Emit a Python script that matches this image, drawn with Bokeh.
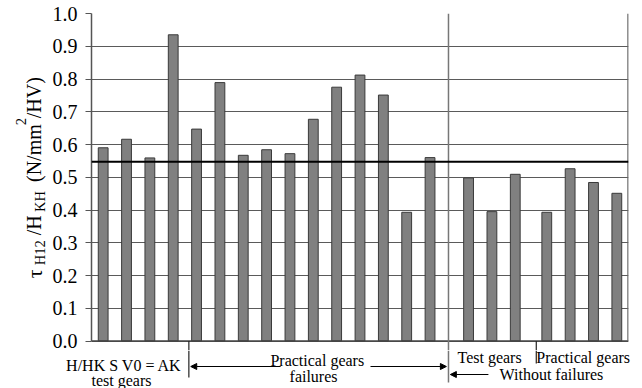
import math
from bokeh.plotting import figure
from bokeh.layouts import column, row
from bokeh.models import Label, Arrow, NormalHead, Span, FixedTicker, Range1d, PrintfTickFormatter
from bokeh.embed import file_html
from bokeh.resources import INLINE

# ---- data ----
positions = [0, 1, 2, 3, 4, 5, 6, 7, 8, 9, 10, 11, 12, 13, 14,
             15.65, 16.65, 17.65, 19, 20, 21, 22]
values = [0.590, 0.616, 0.559, 0.935, 0.647, 0.789, 0.567, 0.584, 0.572, 0.677,
          0.775, 0.812, 0.751, 0.393, 0.560,
          0.498, 0.395, 0.509,
          0.393, 0.526, 0.484, 0.451]
threshold = 0.547
tick_values = [0.0, 0.1, 0.2, 0.3, 0.4, 0.5, 0.6, 0.7, 0.8, 0.9, 1.0]
group_labels = ["H/HK S V0 = AK", "test gears", "Practical gears", "failures",
                "Test gears", "Practical gears", "Without failures"]

FONT = "Liberation Serif"
W, H = 642, 388
LEFT_W = 48          # width of the y-label strip
MAIN_H = 350         # main figure height
BOT_H = H - MAIN_H   # annotation strip height
FRAME_L, FRAME_R, FRAME_T = 91, 628, 13
PX_PER_UNIT = (FRAME_R - FRAME_L) / 23.0
YMIN = -(MAIN_H - 340.5) / 327.5

# ---------------- main chart ----------------
p = figure(width=W - LEFT_W, height=MAIN_H, output_backend="svg", toolbar_location=None,
           x_axis_location=None, x_range=Range1d(-0.5, 22.5), y_range=Range1d(YMIN, 1.0),
           min_border_left=FRAME_L - LEFT_W, min_border_right=W - FRAME_R,
           min_border_top=FRAME_T, min_border_bottom=0)
p.outline_line_color = None
p.background_fill_color = "white"
p.xgrid.visible = False
p.ygrid.ticker = FixedTicker(ticks=tick_values)
p.ygrid.grid_line_color = "#5a5a5a"
p.ygrid.grid_line_width = 1

ax = p.yaxis[0]
ax.ticker = FixedTicker(ticks=tick_values)
ax.formatter = PrintfTickFormatter(format="%.1f")
ax.bounds = (0, 1)
ax.axis_line_color = "#555555"
ax.axis_line_width = 1.5
ax.major_tick_line_color = "#555555"
ax.major_tick_out = 6
ax.major_tick_in = 0
ax.minor_tick_line_color = None
ax.major_label_text_font = FONT
ax.major_label_text_font_size = "20px"
ax.major_label_text_color = "black"
ax.major_label_standoff = 8

p.vbar(x=positions, top=values, bottom=0, width=0.42,
       fill_color="#808080", line_color="#3a3a3a", line_width=1)
p.add_layout(Span(location=threshold, dimension="width", line_color="black", line_width=2))
p.segment(x0=[-0.5], y0=[0], x1=[22.5], y1=[0], line_color="#444444", line_width=1.5)
p.segment(x0=[22.48], y0=[0], x1=[22.48], y1=[1.0], line_color="#666666", line_width=1.5)
p.segment(x0=[14.79], y0=[YMIN], x1=[14.79], y1=[1.0], line_color="#777777", line_width=1.5)
p.segment(x0=[3.67, 18.55], y0=[YMIN, YMIN], x1=[3.67, 18.55], y1=[0, 0],
          line_color="#222222", line_width=1.2)

# ---------------- y-label strip ----------------
yl = figure(width=LEFT_W, height=MAIN_H, output_backend="svg", toolbar_location=None,
            x_axis_location=None, y_axis_location=None,
            x_range=Range1d(0, LEFT_W), y_range=Range1d(0, MAIN_H),
            min_border_left=0, min_border_right=0, min_border_top=0, min_border_bottom=0)
yl.outline_line_color = None
yl.grid.visible = False
# (piece, font px, baseline shift px, offset along text px)
pieces = [
    ("\u03c4", 22, 0, 0.0),
    ("H12", 14.5, 6, 13.0),
    ("/H", 20, 0, 43.0),
    ("KH", 14.5, 6, 66.3),
    ("(N/mm", 20, 0, 96.3),
    ("2", 14.5, -13.5, 153.0),
    ("/HV)", 20, 0, 160.0),
]
base_x = 33.5
base_y = MAIN_H - 275
for txt, size, dx, dy in pieces:
    yl.add_layout(Label(x=base_x, y=base_y, text=txt, angle=math.pi / 2, angle_units="rad",
                        x_offset=dx, y_offset=dy, text_font=FONT,
                        text_font_size=f"{size}px", text_align="left",
                        text_baseline="alphabetic", text_color="black"))

# ---------------- bottom annotation strip ----------------
x0 = -0.5 - FRAME_L / PX_PER_UNIT
x1 = -0.5 + (W - FRAME_L) / PX_PER_UNIT
b = figure(width=W, height=BOT_H, output_backend="svg", toolbar_location=None,
           x_axis_location=None, y_axis_location=None,
           x_range=Range1d(x0, x1), y_range=Range1d(0, BOT_H),
           min_border_left=0, min_border_right=0, min_border_top=0, min_border_bottom=0)
b.outline_line_color = None
b.grid.visible = False

def sy(screen_y):
    return H - screen_y

b.segment(x0=[14.79], y0=[sy(382)], x1=[14.79], y1=[BOT_H], line_color="#777777", line_width=1.5)
b.segment(x0=[3.67, 18.55], y0=[sy(377), sy(363)], x1=[3.67, 18.55], y1=[BOT_H, BOT_H],
          line_color="#222222", line_width=1.2)

def arrow(xs, xe, y):
    b.add_layout(Arrow(x_start=xs, y_start=y, x_end=xe, y_end=y, line_color="black",
                       line_width=1, end=NormalHead(size=6, fill_color="black",
                                                    line_color="black")))

arrow(7.6, 3.75, sy(366))
arrow(11.45, 14.7, sy(366))
arrow(16.5, 14.87, sy(374))

text_specs = [
    (0.89, sy(364.5)), (0.785, sy(379.5)), (9.17, sy(359.5)), (9.01, sy(376)),
    (16.55, sy(357)), (20.56, sy(357)), (19.2, sy(374)),
]
for (tx, ty), t in zip(text_specs, group_labels):
    b.add_layout(Label(x=tx, y=ty, text=t, text_font=FONT, text_font_size="16px",
                       text_align="center", text_baseline="middle", text_color="black"))

layout = column(row(yl, p, spacing=0), b, spacing=0)
open("out.html", "w").write(file_html(layout, INLINE))
